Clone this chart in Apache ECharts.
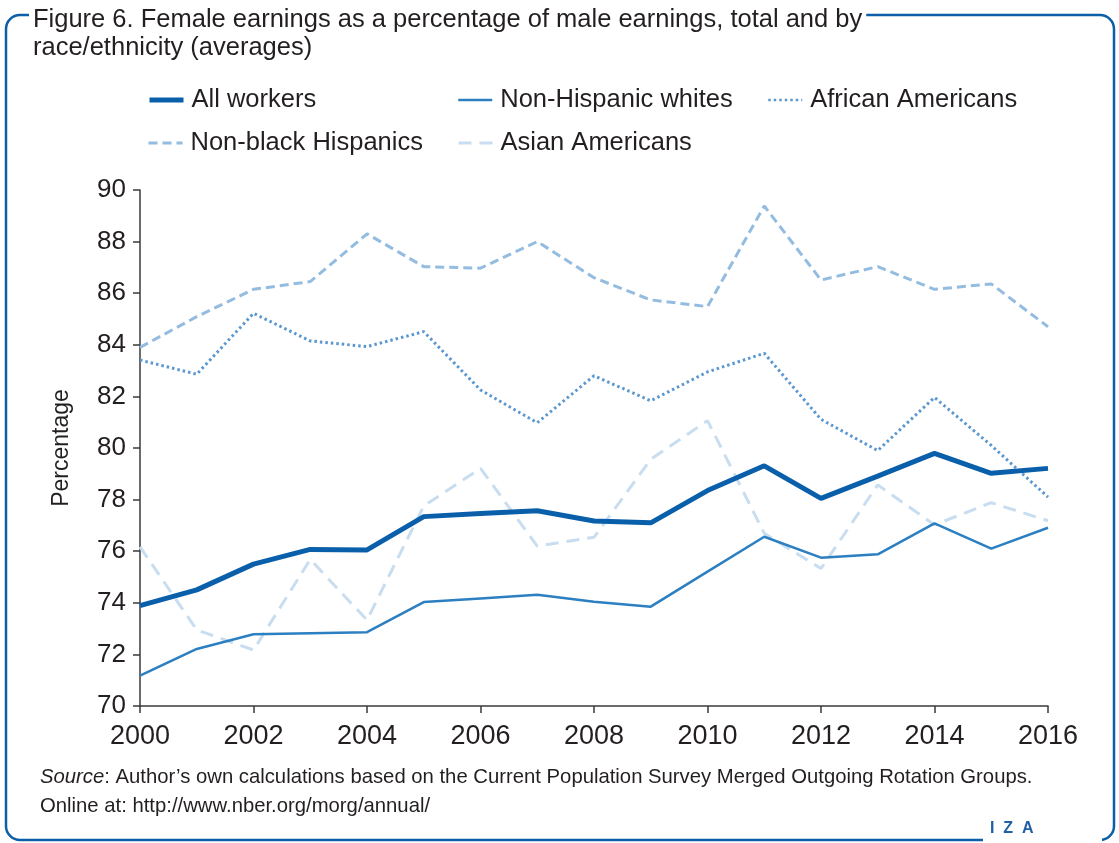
<!DOCTYPE html>
<html>
<head>
<meta charset="utf-8">
<script src="https://cdn.jsdelivr.net/npm/echarts@6/dist/echarts.min.js"></script>
<style>
html,body{margin:0;padding:0;background:#fff;}
#chart{width:1119px;height:843px;}
</style>
</head>
<body>
<div id="chart"></div>
<script>
const years = [2000,2001,2002,2003,2004,2005,2006,2007,2008,2009,2010,2011,2012,2013,2014,2015,2016];
const allWorkers = [73.89,74.5,75.5,76.07,76.05,77.34,77.46,77.57,77.17,77.1,78.35,79.31,78.05,78.91,79.79,79.02,79.21];
const nonHispWhites = [71.18,72.21,72.78,72.82,72.86,74.03,74.17,74.31,74.04,73.85,75.21,76.56,75.75,75.88,77.08,76.1,76.91];
const africanAm = [83.41,82.86,85.22,84.15,83.93,84.51,82.25,80.98,82.8,81.83,82.95,83.67,81.11,79.9,81.96,80.1,78.1];
const nonBlackHisp = [83.9,85.09,86.15,86.45,88.3,87.03,86.97,88.0,86.6,85.74,85.48,89.38,86.51,87.03,86.15,86.36,84.7];
const asianAm = [76.17,72.95,72.17,75.68,73.33,77.75,79.21,76.2,76.54,79.56,81.06,76.69,75.33,78.57,77.02,77.88,77.18];
const yTicks = [70,72,74,76,78,80,82,84,86,88,90];
const xTicks = [2000,2002,2004,2006,2008,2010,2012,2014,2016];

const pair = arr => years.map((y,i)=>[y,arr[i]]);
const FONT = '"Liberation Sans", Arial, sans-serif';
const TXT = '#231f20';
const BLUE = '#0b5fa9';

const chart = echarts.init(document.getElementById('chart'), null, {renderer:'canvas'});

function mkLegend(name, left, top, w){
  return {
    data:[name], left:left, top:top, itemWidth:34, itemHeight:14, itemGap:0, padding:0,
    itemStyle:{opacity:0},
    lineStyle:{width:w},
    textStyle:{fontFamily:FONT, fontSize:25.5, color:TXT, padding:[0,0,0,3]},
    selectedMode:false
  };
}

chart.setOption({
  animation:false,
  backgroundColor:'#fff',
  title:[{
    text:'Figure 6. Female earnings as a percentage of male earnings, total and by\nrace/ethnicity (averages)',
    left:29, top:6,
    padding:[0,4,0,4],
    backgroundColor:'#fff',
    textStyle:{fontFamily:FONT, fontSize:25.5, fontWeight:'normal', color:TXT, lineHeight:28}
  },{
    text:'{i|Source}: Author\u2019s own calculations based on the Current Population Survey Merged Outgoing Rotation Groups.\nOnline at: http://www.nber.org/morg/annual/',
    left:40, top:763, padding:0,
    textStyle:{fontFamily:FONT, fontSize:20.3, fontWeight:'normal', color:TXT, lineHeight:29,
      rich:{i:{fontFamily:FONT, fontSize:20.3, fontStyle:'italic', color:TXT}}}
  }],
  legend:[
    mkLegend('All workers',147,87,5),
    mkLegend('Non-Hispanic whites',457,87,2.5),
    mkLegend('African Americans',767,87,2.5),
    mkLegend('Non-black Hispanics',147,130,3),
    mkLegend('Asian Americans',457,130,3)
  ],
  grid:{left:140, right:71, top:190, bottom:137, containLabel:false},
  xAxis:{
    type:'value', min:2000, max:2016, interval:2,
    axisLine:{show:true, lineStyle:{color:'#3a3a3a', width:1.5}},
    axisTick:{show:true, inside:false, length:7, lineStyle:{color:'#3a3a3a', width:1.5}},
    splitLine:{show:false},
    axisLabel:{fontFamily:FONT, fontSize:27, color:TXT, margin:17,
      formatter: v => xTicks.includes(v) ? String(v) : ''}
  },
  yAxis:{
    type:'value', min:70, max:90, interval:2,
    name:'Percentage', nameLocation:'middle', nameGap:67, nameRotate:90,
    nameTextStyle:{fontFamily:FONT, fontSize:23, color:TXT},
    axisLine:{show:true, lineStyle:{color:'#3a3a3a', width:1.5}},
    axisTick:{show:true, inside:false, length:7, lineStyle:{color:'#3a3a3a', width:1.5}},
    splitLine:{show:false},
    axisLabel:{fontFamily:FONT, fontSize:26, color:TXT, margin:14,
      formatter: v => yTicks.includes(v) ? String(v) : ''}
  },
  series:[
    {name:'Non-black Hispanics', type:'line', data:pair(nonBlackHisp), symbol:'none', color:'#94bce0',
      lineStyle:{color:'#94bce0', width:3, type:[9,5]}, z:2},
    {name:'African Americans', type:'line', data:pair(africanAm), symbol:'none', color:'#5a97cf',
      lineStyle:{color:'#5a97cf', width:3, type:[2.5,3]}, z:3},
    {name:'Asian Americans', type:'line', data:pair(asianAm), symbol:'none', color:'#c8ddef',
      lineStyle:{color:'#c8ddef', width:3, type:[13,8]}, z:1},
    {name:'Non-Hispanic whites', type:'line', data:pair(nonHispWhites), symbol:'none', color:'#2c7fc1',
      lineStyle:{color:'#2c7fc1', width:2.5}, z:4},
    {name:'All workers', type:'line', data:pair(allWorkers), symbol:'none', color:'#0a5faa',
      lineStyle:{color:'#0a5faa', width:5}, z:5}
  ],
  graphic:[
    {type:'rect', z:-10, silent:true,
      shape:{x:6, y:15, width:1108, height:825, r:14},
      style:{fill:'none', stroke:BLUE, lineWidth:2.5}},
    {type:'rect', z:-5, silent:true,
      shape:{x:983, y:830, width:119, height:14},
      style:{fill:'#fff'}},
    {type:'text', z:10, left:990, top:821,
      style:{text:'I  Z  A', fontFamily:FONT, fontSize:16, fontWeight:'bold', fill:'#1f5fa6'}}
  ]
});
</script>
</body>
</html>
